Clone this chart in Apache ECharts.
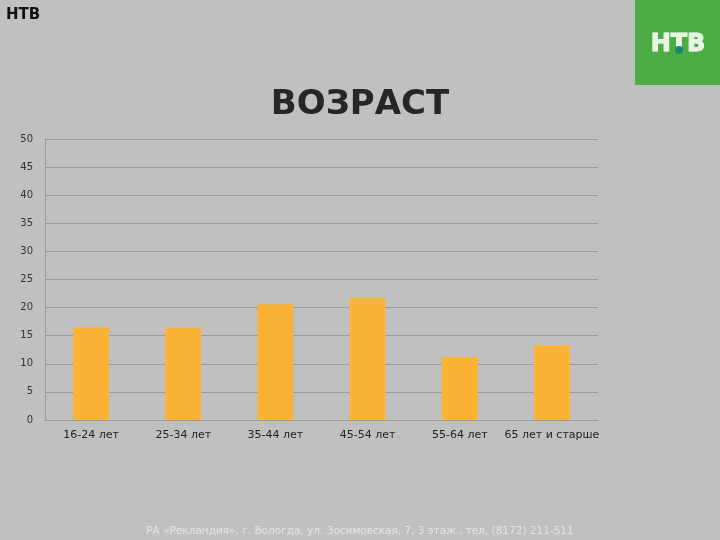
<!DOCTYPE html>
<html>
<head>
<meta charset="utf-8">
<script src="https://cdn.jsdelivr.net/npm/echarts@6/dist/echarts.min.js"></script>
<style>
  html, body { margin: 0; padding: 0; background: #c0c0c0; }
  #chart { width: 720px; height: 540px; }
</style>
</head>
<body>
<div id="chart"></div>
<script>
// age groups and share of audience
var categories = ['16-24 лет', '25-34 лет', '35-44 лет', '45-54 лет', '55-64 лет', '65 лет и старше']
var values = [16.5, 16.4, 20.6, 21.7, 11.2, 13.3]

var chart = echarts.init(document.getElementById('chart'))

chart.setOption({
  backgroundColor: '#c0c0c0',
  animation: false,
  title: {
    text: 'ВОЗРАСТ',
    left: 'center',
    top: 83,
    textStyle: {
      fontFamily: 'DejaVu Sans',
      fontSize: 34,
      fontWeight: 'bold',
      color: '#262626'
    }
  },
  grid: {
    left: 45,
    right: 122,
    top: 139,
    bottom: 120
  },
  xAxis: {
    type: 'category',
    data: categories,
    axisLine: { lineStyle: { color: '#9a9a9a' } },
    axisTick: { show: false },
    axisLabel: {
      color: '#222',
      fontSize: 11,
      fontFamily: 'DejaVu Sans',
      margin: 10,
      interval: 0
    }
  },
  yAxis: {
    type: 'value',
    min: 0,
    max: 50,
    interval: 5,
    axisLine: { show: true, lineStyle: { color: '#9a9a9a' } },
    axisTick: { show: false },
    axisLabel: {
      color: '#333',
      fontSize: 10,
      fontFamily: 'DejaVu Sans',
      margin: 12
    },
    splitLine: { lineStyle: { color: '#9a9a9a', width: 1 } }
  },
  series: [{
    type: 'bar',
    data: values,
    barWidth: '39%',
    itemStyle: { color: '#fbb335' }
  }],
  graphic: [
    {
      type: 'text',
      left: 6,
      top: 8,
      style: {
        text: 'НТВ',
        fontSize: 15,
        fontWeight: 'bold',
        fontFamily: 'DejaVu Sans',
        fill: '#111'
      }
    },
    {
      type: 'rect',
      shape: { x: 635, y: 0, width: 85, height: 85 },
      style: { fill: '#4cad47' }
    },
    {
      type: 'text',
      x: 678,
      y: 45,
      style: {
        text: 'НТВ',
        fontSize: 24,
        fontWeight: 'bold',
        fontFamily: 'DejaVu Sans',
        fill: '#e8f5e0',
        stroke: '#ffffff',
        lineWidth: 1,
        align: 'center',
        verticalAlign: 'middle'
      }
    },
    {
      type: 'circle',
      shape: { cx: 679, cy: 50, r: 4 },
      style: { fill: '#1a8a6a' }
    },
    {
      type: 'text',
      left: 'center',
      top: 526,
      style: {
        text: 'РА «Рекландия», г. Вологда, ул. Зосимовская, 7, 3 этаж., тел. (8172) 211-511',
        fontSize: 10.5,
        fontFamily: 'DejaVu Sans',
        fill: '#e4e4e4'
      }
    }
  ]
})
</script>
</body>
</html>
